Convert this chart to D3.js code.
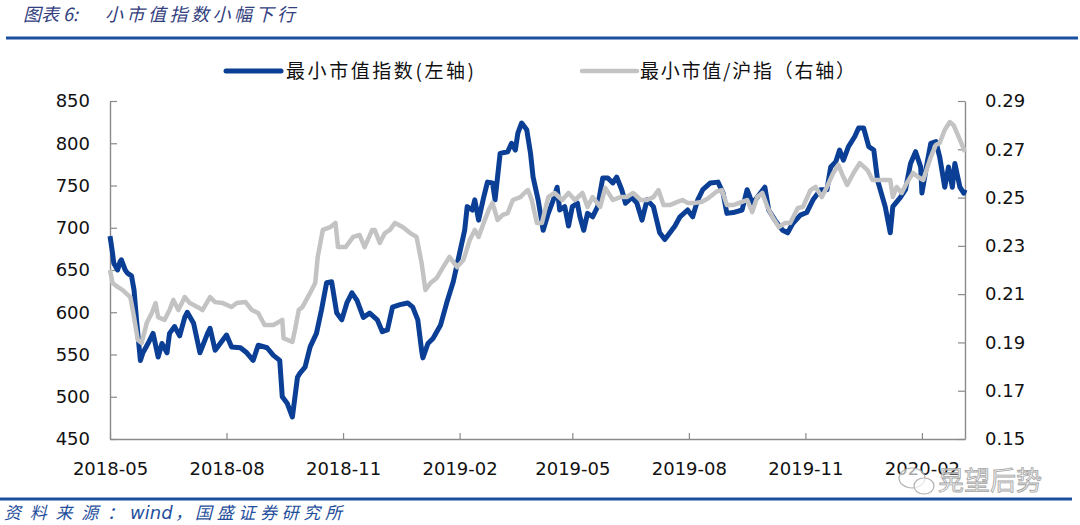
<!DOCTYPE html>
<html><head><meta charset="utf-8">
<script src="https://cdn.jsdelivr.net/npm/d3@7"></script>
<style>body{margin:0;background:#fff;}svg{display:block;}</style>
</head><body>
<svg id="c" width="1080" height="525"></svg>
<script>
const xTickLabels = ["2018-05","2018-08","2018-11","2019-02","2019-05","2019-08","2019-11","2020-02"];
const leftTicks = [450,500,550,600,650,700,750,800,850];
const rightTicks = [0.15,0.17,0.19,0.21,0.23,0.25,0.27,0.29];
const seriesNames = ["最小市值指数(左轴)","最小市值/沪指（右轴）"];

const smallCapDates = ["2018-05-01","2018-05-03","2018-05-04","2018-05-07","2018-05-09","2018-05-10","2018-05-13","2018-05-15","2018-05-18","2018-05-20","2018-05-22","2018-05-25","2018-05-27","2018-05-31","2018-06-04","2018-06-08","2018-06-11","2018-06-15","2018-06-17","2018-06-21","2018-06-25","2018-06-29","2018-07-01","2018-07-06","2018-07-11","2018-07-17","2018-07-19","2018-07-23","2018-07-27","2018-08-01","2018-08-05","2018-08-12","2018-08-17","2018-08-22","2018-08-26","2018-09-02","2018-09-07","2018-09-12","2018-09-14","2018-09-18","2018-09-22","2018-09-26","2018-09-28","2018-10-02","2018-10-06","2018-10-11","2018-10-15","2018-10-19","2018-10-23","2018-10-27","2018-10-31","2018-11-04","2018-11-08","2018-11-12","2018-11-17","2018-11-22","2018-11-28","2018-12-02","2018-12-06","2018-12-10","2018-12-16","2018-12-22","2018-12-26","2018-12-30","2019-01-02","2019-01-03","2019-01-07","2019-01-11","2019-01-17","2019-01-22","2019-01-27","2019-02-01","2019-02-05","2019-02-07","2019-02-11","2019-02-13","2019-02-16","2019-02-20","2019-02-23","2019-02-27","2019-03-01","2019-03-05","2019-03-11","2019-03-14","2019-03-17","2019-03-19","2019-03-22","2019-03-26","2019-03-29","2019-03-31","2019-04-04","2019-04-08","2019-04-12","2019-04-16","2019-04-19","2019-04-21","2019-04-25","2019-04-28","2019-05-01","2019-05-05","2019-05-07","2019-05-10","2019-05-13","2019-05-17","2019-05-21","2019-05-25","2019-05-29","2019-06-02","2019-06-05","2019-06-09","2019-06-12","2019-06-17","2019-06-21","2019-06-25","2019-06-29","2019-07-04","2019-07-09","2019-07-13","2019-07-17","2019-07-21","2019-07-25","2019-07-31","2019-08-04","2019-08-08","2019-08-12","2019-08-18","2019-08-24","2019-08-28","2019-08-31","2019-09-05","2019-09-12","2019-09-16","2019-09-20","2019-09-24","2019-09-30","2019-10-03","2019-10-08","2019-10-14","2019-10-18","2019-10-22","2019-10-28","2019-11-02","2019-11-07","2019-11-13","2019-11-18","2019-11-21","2019-11-25","2019-11-28","2019-12-01","2019-12-05","2019-12-10","2019-12-13","2019-12-17","2019-12-21","2019-12-25","2019-12-28","2020-01-03","2020-01-07","2020-01-09","2020-01-15","2020-01-19","2020-01-23","2020-01-27","2020-01-31","2020-02-01","2020-02-05","2020-02-08","2020-02-12","2020-02-15","2020-02-19","2020-02-22","2020-02-25","2020-02-27","2020-03-02","2020-03-05","2020-03-06"];
const smallCapValues = [690,670,658,650,660,662,650,646,643,626,590,543,552,563,575,547,563,552,575,583,572,594,600,587,552,575,581,555,563,573,559,558,552,543,561,558,549,543,500,492,476,523,528,535,559,575,603,635,636,599,591,611,623,614,594,599,591,577,579,606,609,611,606,591,555,546,563,569,585,612,636,670,697,725,721,733,709,736,754,753,733,788,790,800,792,812,824,816,788,760,733,697,717,733,748,721,725,702,725,729,713,697,717,713,725,759,759,753,760,745,729,736,729,709,733,725,694,686,694,702,713,721,713,733,745,753,754,741,717,718,721,745,729,736,748,721,709,697,694,705,715,718,733,745,745,772,778,792,780,796,808,818,818,796,792,756,725,694,725,736,745,776,790,772,741,776,800,802,784,748,772,748,776,748,741,745];

const ratioDates = ["2018-05-01","2018-05-03","2018-05-07","2018-05-11","2018-05-17","2018-05-19","2018-05-23","2018-05-26","2018-05-30","2018-06-03","2018-06-06","2018-06-08","2018-06-13","2018-06-17","2018-06-20","2018-06-24","2018-06-29","2018-07-03","2018-07-09","2018-07-13","2018-07-19","2018-07-23","2018-07-29","2018-08-05","2018-08-09","2018-08-16","2018-08-21","2018-08-26","2018-08-31","2018-09-07","2018-09-14","2018-09-15","2018-09-22","2018-09-24","2018-09-27","2018-09-30","2018-10-06","2018-10-10","2018-10-12","2018-10-16","2018-10-22","2018-10-26","2018-10-28","2018-11-03","2018-11-09","2018-11-14","2018-11-18","2018-11-24","2018-11-26","2018-11-30","2018-12-04","2018-12-08","2018-12-12","2018-12-18","2018-12-24","2018-12-29","2019-01-02","2019-01-05","2019-01-09","2019-01-14","2019-01-19","2019-01-24","2019-01-30","2019-02-04","2019-02-09","2019-02-13","2019-02-16","2019-02-20","2019-02-24","2019-02-27","2019-03-03","2019-03-07","2019-03-11","2019-03-15","2019-03-21","2019-03-25","2019-03-27","2019-03-30","2019-04-03","2019-04-07","2019-04-12","2019-04-17","2019-04-23","2019-04-28","2019-05-03","2019-05-09","2019-05-13","2019-05-17","2019-05-23","2019-05-27","2019-06-02","2019-06-08","2019-06-13","2019-06-18","2019-06-24","2019-06-29","2019-07-04","2019-07-08","2019-07-12","2019-07-17","2019-07-23","2019-07-27","2019-07-31","2019-08-06","2019-08-11","2019-08-16","2019-08-23","2019-08-27","2019-08-31","2019-09-05","2019-09-12","2019-09-16","2019-09-20","2019-09-24","2019-09-28","2019-10-02","2019-10-06","2019-10-11","2019-10-16","2019-10-20","2019-10-26","2019-10-30","2019-11-05","2019-11-09","2019-11-14","2019-11-18","2019-11-23","2019-11-27","2019-12-01","2019-12-04","2019-12-09","2019-12-14","2019-12-20","2019-12-24","2019-12-28","2020-01-03","2020-01-07","2020-01-09","2020-01-12","2020-01-16","2020-01-20","2020-01-25","2020-01-29","2020-02-02","2020-02-08","2020-02-12","2020-02-15","2020-02-19","2020-02-23","2020-02-26","2020-03-01","2020-03-06"];
const ratioValues = [0.220,0.2146,0.213,0.2117,0.2088,0.2034,0.191,0.1898,0.198,0.2022,0.2063,0.2005,0.1993,0.2034,0.2076,0.2034,0.2088,0.2063,0.2047,0.2034,0.2088,0.2067,0.2063,0.2047,0.2063,0.2067,0.2034,0.2022,0.1972,0.1972,0.1993,0.1918,0.1902,0.1951,0.2034,0.2047,0.2105,0.2146,0.2254,0.2366,0.2378,0.2395,0.2295,0.2295,0.2337,0.2345,0.2295,0.2366,0.2366,0.2312,0.2353,0.2366,0.2395,0.2378,0.2353,0.2337,0.2229,0.2117,0.2146,0.2167,0.2212,0.2254,0.2212,0.2241,0.2324,0.2366,0.2337,0.2395,0.2449,0.2478,0.2407,0.2428,0.2436,0.249,0.2502,0.2523,0.2531,0.249,0.2395,0.2395,0.2502,0.2519,0.249,0.2519,0.249,0.2519,0.2461,0.2502,0.2461,0.254,0.249,0.2502,0.2502,0.2519,0.249,0.249,0.2502,0.2531,0.2469,0.2469,0.2482,0.249,0.2478,0.2478,0.2482,0.2496,0.2525,0.2531,0.2469,0.2469,0.2482,0.249,0.244,0.2502,0.2519,0.2461,0.242,0.2378,0.2395,0.2395,0.2457,0.2461,0.2531,0.2544,0.2502,0.2544,0.2602,0.2635,0.2585,0.2552,0.2602,0.2643,0.2614,0.2573,0.2573,0.2573,0.2573,0.2502,0.2544,0.2519,0.256,0.2602,0.2585,0.2573,0.2668,0.2718,0.2726,0.278,0.2813,0.28,0.2751,0.2689];

const parse = d3.timeParse("%Y-%m-%d");
const parseM = d3.timeParse("%Y-%m");
const svg = d3.select("#c");
const mLeft = 110, mRight = 965, mTop = 101, mBottom = 439;

const x = d3.scaleTime().domain([parse("2018-05-01"), parse("2020-03-06")]).range([mLeft, mRight]);
const yL = d3.scaleLinear().domain([450, 850]).range([mBottom, mTop]);
const yR = d3.scaleLinear().domain([0.15, 0.29]).range([mBottom, mTop]);

const blue = "#0b3f96", gray = "#c3c3c3", axisCol = "#8a8a8a";
const tickFont = "DejaVu Sans, Verdana, sans-serif";
const cjk = "'Noto Sans CJK SC', sans-serif";

// title
svg.append("text").attr("x", 23).attr("y", 21).attr("font-family", cjk).attr("font-size", 18)
  .attr("font-style", "italic").attr("fill", "#33407e").text("图表 6:");
svg.append("text").attr("x", 105).attr("y", 21).attr("font-family", cjk).attr("font-size", 18)
  .attr("font-style", "italic").attr("fill", "#33407e").attr("textLength", 190).attr("lengthAdjust", "spacing")
  .text("小市值指数小幅下行");
svg.append("line").attr("x1", 6).attr("x2", 1078).attr("y1", 38).attr("y2", 38)
  .attr("stroke", "#1b4f9f").attr("stroke-width", 3);

// legend
const legend = [{name: seriesNames[0], color: blue, w: 5, x0: 226, x1: 281, tx: 286, tl: 188},
                {name: seriesNames[1], color: gray, w: 4.5, x0: 582, x1: 637, tx: 640, tl: 215}];
legend.forEach(l => {
  svg.append("line").attr("x1", l.x0).attr("x2", l.x1).attr("y1", 71).attr("y2", 71)
    .attr("stroke", l.color).attr("stroke-width", l.w).attr("stroke-linecap", "round");
  svg.append("text").attr("x", l.tx).attr("y", 78).attr("font-family", cjk).attr("font-size", 19)
    .attr("fill", "#111").attr("textLength", l.tl).attr("lengthAdjust", "spacing").text(l.name);
});

// axes
const gL = svg.append("g").attr("transform", `translate(${mLeft},0)`)
  .call(d3.axisLeft(yL).tickValues(leftTicks).tickSize(-7).tickPadding(20).tickSizeOuter(0));
const gR = svg.append("g").attr("transform", `translate(${mRight},0)`)
  .call(d3.axisRight(yR).tickValues(rightTicks).tickSize(-7).tickPadding(20).tickSizeOuter(0).tickFormat(d3.format(".2f")));
const gB = svg.append("g").attr("transform", `translate(0,${mBottom})`)
  .call(d3.axisBottom(x).tickValues(xTickLabels.map(parseM)).tickSize(-6).tickPadding(23).tickSizeOuter(0)
    .tickFormat(d3.timeFormat("%Y-%m")));
[gL, gR, gB].forEach(g => {
  g.select(".domain").attr("stroke", axisCol).attr("stroke-width", 1.4);
  g.selectAll(".tick line").attr("stroke", axisCol).attr("stroke-width", 1.2);
  g.selectAll("text").attr("font-family", tickFont).attr("font-size", 18).attr("fill", "#111");
});

// lines
const blueData = smallCapDates.map((d, i) => ({d: parse(d), v: smallCapValues[i]}));
const grayData = ratioDates.map((d, i) => ({d: parse(d), v: ratioValues[i]}));
svg.append("path").datum(blueData).attr("fill", "none").attr("stroke", blue).attr("stroke-width", 5)
  .attr("stroke-linejoin", "round").attr("d", d3.line().x(p => x(p.d)).y(p => yL(p.v)));
svg.append("path").datum(grayData).attr("fill", "none").attr("stroke", gray).attr("stroke-width", 4.5)
  .attr("stroke-linejoin", "round").attr("d", d3.line().x(p => x(p.d)).y(p => yR(p.v)));

// footer
svg.append("line").attr("x1", 0).attr("x2", 1072).attr("y1", 499).attr("y2", 499)
  .attr("stroke", "#1b4f9f").attr("stroke-width", 3);
const foot = svg.append("text").attr("y", 519).attr("font-family", cjk).attr("font-size", 17)
  .attr("font-style", "italic").attr("fill", "#1f4f9c");
foot.append("tspan").attr("x", 4).attr("textLength", 120).attr("lengthAdjust", "spacing").text("资料来源：");
foot.append("tspan").attr("x", 130).attr("font-family", "'DejaVu Sans', sans-serif").attr("font-size", 18).text("wind");
foot.append("tspan").attr("x", 175).text("，");
foot.append("tspan").attr("x", 195).attr("textLength", 147).attr("lengthAdjust", "spacing").text("国盛证券研究所");

// watermark
const wm = svg.append("g").attr("opacity", 0.9);
wm.append("ellipse").attr("cx", 912).attr("cy", 478).attr("rx", 13).attr("ry", 10)
  .attr("fill", "rgba(255,255,255,0.7)").attr("stroke", "#aaa").attr("stroke-width", 1.2);
wm.append("ellipse").attr("cx", 924).attr("cy", 486).attr("rx", 10).attr("ry", 8)
  .attr("fill", "rgba(255,255,255,0.7)").attr("stroke", "#aaa").attr("stroke-width", 1.2);
wm.append("text").attr("x", 938).attr("y", 490).attr("font-family", cjk).attr("font-size", 26)
  .attr("fill", "#f2f2f2").attr("stroke", "#9a9a9a").attr("stroke-width", 0.8).text("晃望后势");
</script>
</body></html>
